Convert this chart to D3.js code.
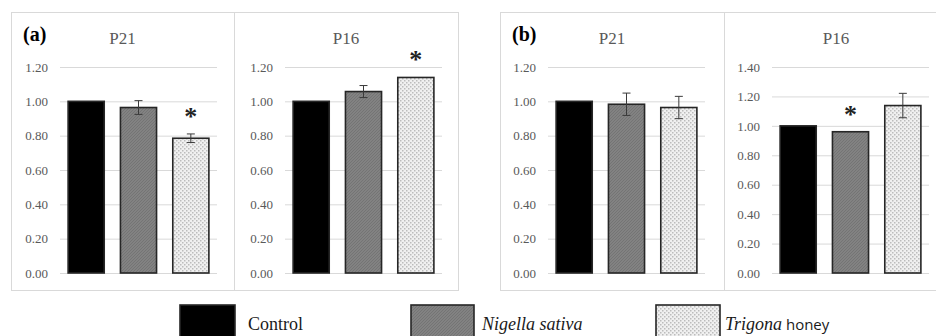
<!DOCTYPE html>
<html><head><meta charset="utf-8">
<script src="https://cdn.jsdelivr.net/npm/d3@7"></script>
<style>
body{margin:0;background:#fff}
.serif{font-family:"Liberation Serif","DejaVu Serif","Times New Roman",serif}
.sans{font-family:"Open Sans","Liberation Sans",sans-serif}
</style></head>
<body>
<svg id="c" width="936" height="336"></svg>
<script>
// ---- data ----
const categories = ["Control", "Nigella sativa", "Trigona honey"];
const panelLabels = ["(a)", "(b)"];
const subTitles = ["P21", "P16"];

const aP21Values = [1.00, 0.964, 0.785];
const aP21Errors = [0, 0.04, 0.025];
const aP21Sig    = [false, false, true];

const aP16Values = [1.00, 1.057, 1.139];
const aP16Errors = [0, 0.035, 0];
const aP16Sig    = [false, false, true];

const bP21Values = [1.00, 0.983, 0.964];
const bP21Errors = [0, 0.065, 0.065];
const bP21Sig    = [false, false, false];

const bP16Values = [1.00, 0.960, 1.138];
const bP16Errors = [0, 0, 0.083];
const bP16Sig    = [false, true, false];

const ticks12 = [0, 0.2, 0.4, 0.6, 0.8, 1.0, 1.2];
const ticks14 = [0, 0.2, 0.4, 0.6, 0.8, 1.0, 1.2, 1.4];

// ---- drawing ----
const svg = d3.select("#c");
const defs = svg.append("defs");

const pg = defs.append("pattern").attr("id", "hatch").attr("patternUnits", "userSpaceOnUse")
  .attr("width", 3).attr("height", 3);
pg.append("rect").attr("width", 3).attr("height", 3).attr("fill", "#828282");
pg.append("path").attr("d", "M0,3 L3,0").attr("stroke", "#6e6e6e").attr("stroke-width", 0.7);
const pd = defs.append("pattern").attr("id", "dots").attr("patternUnits", "userSpaceOnUse")
  .attr("width", 4).attr("height", 4);
pd.append("rect").attr("width", 4).attr("height", 4).attr("fill", "#f0f0f0");
pd.append("rect").attr("x", 0).attr("y", 0).attr("width", 1.5).attr("height", 1.5).attr("fill", "#bcbcbc");
pd.append("rect").attr("x", 2).attr("y", 2).attr("width", 1.5).attr("height", 1.5).attr("fill", "#bcbcbc");

const fills = ["#000000", "url(#hatch)", "url(#dots)"];

const frames = [{x0: 11, x1: 458, mid: 234}, {x0: 500, x1: 948, mid: 724}];
const frameTop = 12, frameBot = 290;
frames.forEach((f, i) => {
  svg.append("rect").attr("x", f.x0 + 0.5).attr("y", frameTop + 0.5)
    .attr("width", f.x1 - f.x0).attr("height", frameBot - frameTop)
    .attr("fill", "none").attr("stroke", "#d9d9d9").attr("stroke-width", 1);
  svg.append("line").attr("x1", f.mid + 0.5).attr("x2", f.mid + 0.5)
    .attr("y1", frameTop).attr("y2", frameBot).attr("stroke", "#d9d9d9");
  svg.append("text").attr("class", "serif").attr("x", f.x0 + 12).attr("y", 41)
    .attr("font-weight", "bold").attr("font-size", 20)
    .attr("fill", "#000").text(panelLabels[i]);
});

const subplots = [
  {vals: aP21Values, errs: aP21Errors, sig: aP21Sig, ticks: ticks12, title: subTitles[0], gx0: 60,  cx: 122.5},
  {vals: aP16Values, errs: aP16Errors, sig: aP16Sig, ticks: ticks12, title: subTitles[1], gx0: 285, cx: 346},
  {vals: bP21Values, errs: bP21Errors, sig: bP21Sig, ticks: ticks12, title: subTitles[0], gx0: 548, cx: 612},
  {vals: bP16Values, errs: bP16Errors, sig: bP16Sig, ticks: ticks14, title: subTitles[1], gx0: 772, cx: 836}
];
const yTop = 67, yBot = 273, gW = 157;

subplots.forEach(sp => {
  const y = d3.scaleLinear().domain([0, d3.max(sp.ticks)]).range([yBot, yTop]);
  const x = d3.scaleBand().domain(categories).range([sp.gx0, sp.gx0 + gW])
    .paddingInner(0.31).paddingOuter(0.155);
  const g = svg.append("g");

  const ax = d3.axisLeft(y).tickValues(sp.ticks).tickFormat(d3.format(".2f"))
    .tickSize(-gW).tickPadding(12);
  const axg = g.append("g").attr("transform", `translate(${sp.gx0},0)`).call(ax)
    .attr("font-family", null).attr("font-size", null);
  axg.select(".domain").remove();
  axg.selectAll(".tick line").attr("stroke", "#d9d9d9").attr("stroke-width", 1);
  axg.selectAll(".tick text").attr("class", "serif").attr("font-size", 13)
    .attr("fill", "#595959");

  g.append("text").attr("class", "serif").attr("x", sp.cx).attr("y", 44).attr("text-anchor", "middle")
    .attr("font-size", 17).attr("fill", "#595959").text(sp.title);

  const data = categories.map((c, i) => ({c, v: sp.vals[i], e: sp.errs[i], s: sp.sig[i], i}));
  g.selectAll("rect.bar").data(data).join("rect").attr("class", "bar")
    .attr("x", d => x(d.c)).attr("width", x.bandwidth())
    .attr("y", d => y(d.v)).attr("height", d => y(0) - y(d.v))
    .attr("fill", d => fills[d.i])
    .attr("stroke", "#262626").attr("stroke-width", 1.6);
  const eb = data.filter(d => d.e > 0);
  const cxb = d => x(d.c) + x.bandwidth() / 2;
  g.selectAll("line.ev").data(eb).join("line").attr("class", "ev")
    .attr("x1", cxb).attr("x2", cxb).attr("y1", d => y(d.v + d.e)).attr("y2", d => y(d.v - d.e))
    .attr("stroke", "#3a3a3a").attr("stroke-width", 1);
  g.selectAll("line.et").data(eb).join("line").attr("class", "et")
    .attr("x1", d => cxb(d) - 4).attr("x2", d => cxb(d) + 4)
    .attr("y1", d => y(d.v + d.e)).attr("y2", d => y(d.v + d.e))
    .attr("stroke", "#3a3a3a").attr("stroke-width", 1);
  g.selectAll("line.eb").data(eb).join("line").attr("class", "eb")
    .attr("x1", d => cxb(d) - 4).attr("x2", d => cxb(d) + 4)
    .attr("y1", d => y(d.v - d.e)).attr("y2", d => y(d.v - d.e))
    .attr("stroke", "#3a3a3a").attr("stroke-width", 1);
  g.selectAll("text.star").data(data.filter(d => d.s)).join("text").attr("class", "serif")
    .attr("x", cxb).attr("y", d => y(d.v + d.e) - 9)
    .attr("text-anchor", "middle").attr("font-size", 26)
    .attr("font-weight", "bold").attr("fill", "#222").text("*");
});

const legItems = [
  {x: 180, w: 55, tx: 248, parts: [{t: "Control", it: false, cls: "serif"}]},
  {x: 411, w: 63, tx: 482, parts: [{t: "Nigella sativa", it: true, cls: "serif"}]},
  {x: 656, w: 64, tx: 725, parts: [{t: "Trigona", it: true, cls: "serif"}, {t: " honey", it: false, cls: "sans"}]}
];
legItems.forEach((L, i) => {
  svg.append("rect").attr("x", L.x).attr("y", 305).attr("width", L.w).attr("height", 40)
    .attr("fill", fills[i]).attr("stroke", "#262626").attr("stroke-width", 1.6);
  const t = svg.append("text").attr("x", L.tx).attr("y", 330).attr("fill", "#1a1a1a");
  L.parts.forEach(p => {
    t.append("tspan").attr("class", p.cls).attr("font-style", p.it ? "italic" : "normal")
      .attr("font-size", p.cls === "serif" ? 18 : 15).text(p.t);
  });
});
</script>
</body></html>
